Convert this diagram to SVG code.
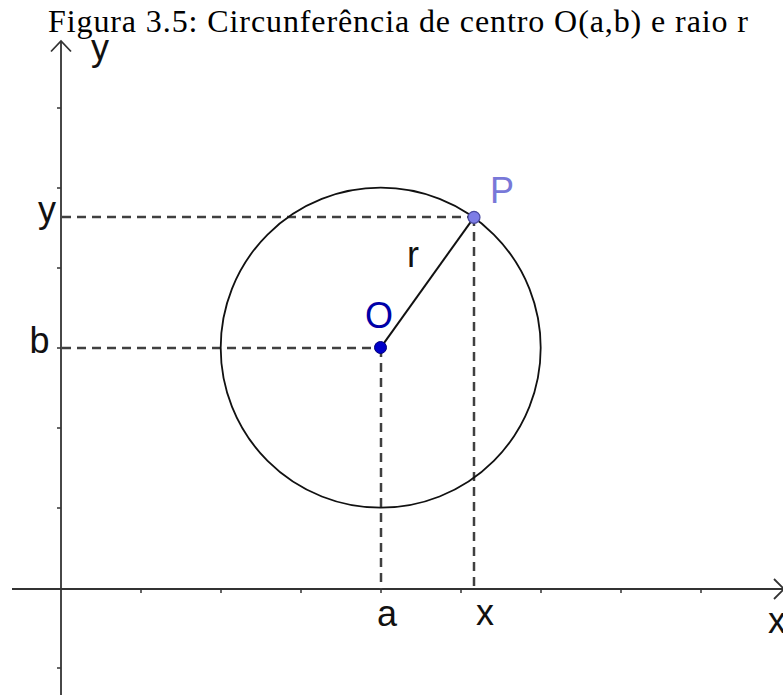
<svg xmlns="http://www.w3.org/2000/svg" width="783" height="695" viewBox="0 0 783 695">
<style>
.axis{stroke:#333;stroke-width:1.8;fill:none}
.tick{stroke:#333;stroke-width:1.5}
.dash{stroke:#404040;stroke-width:2.5;stroke-dasharray:9 6;fill:none}
.lbl{font-family:"Liberation Sans",Arial,sans-serif;font-size:36px;fill:#111}
.title{font-family:"Liberation Serif","Times New Roman",serif;font-size:32px;fill:#000}
</style>
<rect width="783" height="695" fill="#fff"/>
<text class="title" x="48" y="31.5" textLength="700" lengthAdjust="spacing">Figura 3.5: Circunferência de centro O(a,b) e raio r</text>
<g id="axes">
<line class="axis" x1="61" y1="41" x2="61" y2="695"/>
<polyline class="axis" points="51,51.5 61,41 71,51.5" stroke-width="1.5"/>
<line class="axis" x1="12" y1="589" x2="783" y2="589"/>
<polyline class="axis" points="774,579 784,589 774,599" stroke-width="1.5"/>
<g class="tick">
<line x1="57" y1="108" x2="61" y2="108"/>
<line x1="57" y1="188" x2="61" y2="188"/>
<line x1="57" y1="268" x2="61" y2="268"/>
<line x1="57" y1="348" x2="61" y2="348"/>
<line x1="57" y1="428" x2="61" y2="428"/>
<line x1="57" y1="508" x2="61" y2="508"/>
<line x1="57" y1="668" x2="61" y2="668"/>
<line x1="141" y1="589" x2="141" y2="593"/>
<line x1="221" y1="589" x2="221" y2="593"/>
<line x1="301" y1="589" x2="301" y2="593"/>
<line x1="381" y1="589" x2="381" y2="593"/>
<line x1="461" y1="589" x2="461" y2="593"/>
<line x1="541" y1="589" x2="541" y2="593"/>
<line x1="621" y1="589" x2="621" y2="593"/>
<line x1="701" y1="589" x2="701" y2="593"/>
</g>
<text class="lbl" x="91" y="59.5" font-size="34">y</text>
<text class="lbl" x="768" y="633">x</text>
</g>
<g id="connectors">
<line class="dash" x1="62" y1="217" x2="474" y2="217"/>
<line class="dash" x1="474" y1="217" x2="474" y2="589"/>
<line class="dash" x1="62" y1="348" x2="381" y2="348"/>
<line class="dash" x1="381" y1="348" x2="381" y2="589"/>
<line x1="380.7" y1="347.7" x2="474" y2="217.3" stroke="#111" stroke-width="2"/>
</g>
<g id="circle">
<circle cx="380.7" cy="347.7" r="160" fill="none" stroke="#111" stroke-width="1.8"/>
</g>
<g id="point-O">
<circle cx="380.5" cy="347.5" r="6" fill="#0000c8" stroke="#00007a" stroke-width="1"/>
<text class="lbl" x="365" y="328" font-size="33" fill="#0000a8" style="fill:#0000a8">O</text>
</g>
<g id="point-P">
<circle cx="474" cy="217.3" r="6" fill="#7d7de6" stroke="#4a4aa0" stroke-width="1.2"/>
<text class="lbl" x="490" y="203" font-size="32" style="fill:#7878d8">P</text>
</g>
<g id="labels">
<text class="lbl" x="407" y="266.5">r</text>
<text class="lbl" x="38" y="221.5">y</text>
<text class="lbl" x="29.5" y="353">b</text>
<text class="lbl" x="377" y="626">a</text>
<text class="lbl" x="476" y="625">x</text>
</g>
</svg>
